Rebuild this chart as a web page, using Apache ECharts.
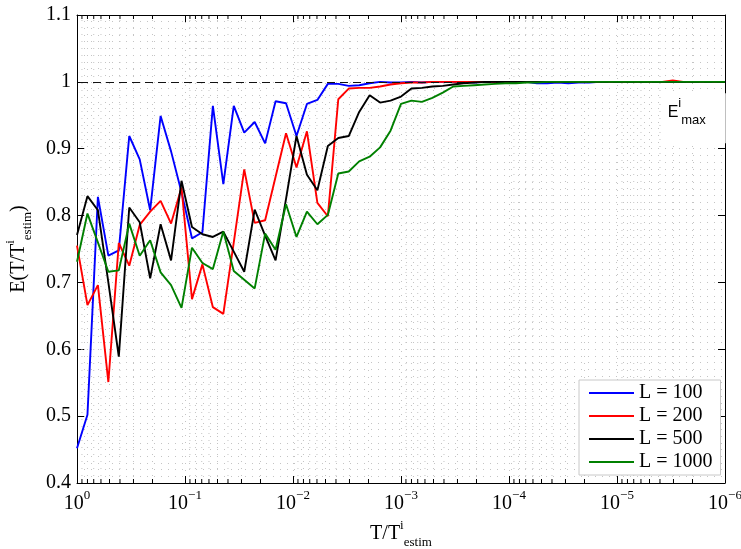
<!DOCTYPE html>
<html>
<head>
<meta charset="utf-8">
<script src="https://cdn.jsdelivr.net/npm/echarts@6/dist/echarts.min.js"></script>
<style>
  html, body { margin: 0; padding: 0; background: #fff; }
  #chart { width: 741px; height: 549px; }
</style>
</head>
<body>
<div id="chart"></div>
<script>
// Sample points T/T_estim, evenly spaced in log10 from 1 down to 1e-6 (63 samples)
const nSamples = 63;
const ratio = [];
for (let k = 0; k < nSamples; k++) ratio.push(Math.pow(10, -6 * k / (nSamples - 1)));

const seriesNames = ['L = 100', 'L = 200', 'L = 500', 'L = 1000'];
const seriesColors = ['#0000ff', '#ff0000', '#000000', '#008000'];

// Mean efficiency E(T/T_estim) per window length L
const effL100 = [
  0.452, 0.502, 0.828, 0.740, 0.748, 0.919, 0.884, 0.808, 0.949, 0.896,
  0.835, 0.766, 0.775, 0.964, 0.847, 0.964, 0.924, 0.940, 0.908, 0.971,
  0.968, 0.919, 0.967, 0.973, 0.997, 0.997, 0.994, 0.995, 0.998, 1.000,
  0.999, 0.999, 1.000, 0.999, 1.000, 1.000, 1.000, 1.000, 0.999, 1.000,
  1.000, 1.000, 1.000, 1.000, 0.998, 0.998, 0.999, 0.998, 0.999, 0.999,
  1.000, 1.000, 1.000, 1.000, 1.000, 1.000, 1.000, 1.000, 1.000, 1.000,
  1.000, 1.000, 1.000
];
const effL200 = [
  0.755, 0.666, 0.696, 0.551, 0.759, 0.725, 0.786, 0.806, 0.822, 0.788,
  0.842, 0.675, 0.727, 0.663, 0.653, 0.760, 0.869, 0.789, 0.793, 0.858,
  0.923, 0.872, 0.926, 0.819, 0.799, 0.974, 0.990, 0.991, 0.991, 0.993,
  0.996, 0.998, 0.999, 0.999, 1.000, 1.000, 1.000, 1.000, 1.000, 1.000,
  1.000, 1.000, 1.000, 1.000, 1.000, 1.000, 1.000, 1.000, 1.000, 1.000,
  1.000, 1.000, 1.000, 1.000, 1.000, 1.000, 1.000, 1.002, 1.000, 1.000,
  1.000, 1.000, 1.000
];
const effL500 = [
  0.771, 0.829, 0.808, 0.700, 0.589, 0.812, 0.790, 0.706, 0.787, 0.733,
  0.852, 0.783, 0.772, 0.768, 0.776, 0.746, 0.716, 0.809, 0.770, 0.733,
  0.825, 0.919, 0.861, 0.838, 0.904, 0.916, 0.919, 0.955, 0.980, 0.969,
  0.972, 0.978, 0.990, 0.991, 0.993, 0.994, 0.996, 0.998, 0.999, 1.000,
  1.000, 1.000, 1.000, 1.000, 1.000, 1.000, 1.000, 1.000, 1.000, 1.000,
  1.000, 1.000, 1.000, 1.000, 1.000, 1.000, 1.000, 1.000, 1.000, 1.000,
  1.000, 1.000, 1.000
];
const effL1000 = [
  0.731, 0.803, 0.760, 0.716, 0.718, 0.788, 0.740, 0.763, 0.715, 0.696,
  0.662, 0.752, 0.729, 0.720, 0.776, 0.717, 0.704, 0.691, 0.773, 0.749,
  0.817, 0.768, 0.806, 0.787, 0.801, 0.863, 0.866, 0.881, 0.888, 0.902,
  0.927, 0.967, 0.972, 0.970, 0.976, 0.984, 0.993, 0.994, 0.995, 0.996,
  0.997, 0.998, 0.998, 0.999, 0.999, 1.000, 1.000, 1.000, 1.000, 1.000,
  1.000, 1.000, 1.000, 1.000, 1.000, 1.000, 1.000, 1.000, 1.000, 1.000,
  1.000, 1.000, 1.000
];
const efficiency = [effL100, effL200, effL500, effL1000];

const yMin = 0.4, yMax = 1.1, yStep = 0.1;
const xMin = 1e-6, xMax = 1;
const maxLevel = 1; // reference level E_max

const serif = 'Liberation Serif';
const sans = 'Liberation Sans';
const gridDots = { color: '#c4c4c4', width: 1, type: [1, 6] };

// minor log positions 2..9 x 10^-d inside the x range
const minorX = [];
for (let d = 1; d <= 6; d++) {
  for (let m = 2; m <= 9; m++) minorX.push([m * Math.pow(10, -d), yMin]);
}

function supLabel(v) {
  const e = Math.round(Math.log10(v));
  return '{b|10}{s|' + (e < 0 ? '\u2212' + (-e) : e) + '}';
}

const chart = echarts.init(document.getElementById('chart'), null, { renderer: 'canvas' });

const xAxisBase = {
  type: 'log', logBase: 10, min: xMin, max: xMax, inverse: true, splitNumber: 6,
  axisLine: { show: true, onZero: false, lineStyle: { color: '#000', width: 1 } },
  axisTick: { show: true, inside: true, length: 7, lineStyle: { color: '#000' } },
  minorTick: { show: false }
};
const yAxisBase = {
  type: 'value', min: yMin, max: yMax, interval: yStep,
  axisLine: { show: true, onZero: false, lineStyle: { color: '#000', width: 1 } },
  axisTick: { show: true, inside: true, length: 7, lineStyle: { color: '#000' } }
};

const lineSeries = seriesNames.map((name, i) => ({
  name: name,
  type: 'line',
  xAxisIndex: 0, yAxisIndex: 0,
  data: ratio.map((t, k) => [t, efficiency[i][k]]),
  symbol: 'none',
  showSymbol: false,
  color: seriesColors[i],
  lineStyle: { width: 1.9, color: seriesColors[i] },
  z: 3 + i
}));

// dashed reference line at E = 1
lineSeries[3].markLine = {
  silent: true, symbol: 'none', label: { show: false },
  lineStyle: { color: '#111', width: 1, type: [8, 5] },
  data: [{ yAxis: maxLevel }]
};

const option = {
  animation: false,
  backgroundColor: '#fff',
  grid: { left: 77, right: 16, top: 15, bottom: 66, containLabel: false, outerBoundsMode: 'none' },
  xAxis: [
    Object.assign({}, xAxisBase, {
      position: 'bottom',
      axisLabel: {
        margin: 6, formatter: supLabel,
        rich: {
          b: { fontFamily: serif, fontSize: 20, color: '#000', lineHeight: 30, verticalAlign: 'middle' },
          s: { fontFamily: serif, fontSize: 13, color: '#000', lineHeight: 13, verticalAlign: 'top' }
        }
      },
      splitLine: { show: true, lineStyle: gridDots },
      name: '{n|T/T}{s|i}{u|estim}',
      nameLocation: 'middle', nameGap: 35,
      nameTextStyle: {
        rich: {
          n: { fontFamily: serif, fontSize: 20, color: '#000', lineHeight: 30, verticalAlign: 'middle' },
          s: { fontFamily: serif, fontSize: 13, color: '#000', lineHeight: 13, verticalAlign: 'top' },
          u: { fontFamily: serif, fontSize: 13, color: '#000', lineHeight: 13, verticalAlign: 'bottom' }
        }
      }
    }),
    Object.assign({}, xAxisBase, {
      position: 'top',
      axisLabel: { show: false },
      splitLine: { show: false }
    })
  ],
  yAxis: [
    Object.assign({}, yAxisBase, {
      position: 'left',
      axisLabel: {
        margin: 6, fontFamily: serif, fontSize: 20, color: '#000',
        formatter: v => String(Number(v.toFixed(1)))
      },
      splitLine: { show: true, lineStyle: gridDots },
      minorTick: { show: false, splitNumber: 10 },
      minorSplitLine: { show: true, lineStyle: gridDots },
      name: '{n|E(T/T}{s|i}{u|estim}{n|)}',
      nameLocation: 'middle', nameGap: 43, nameRotate: 90,
      nameTextStyle: {
        rich: {
          n: { fontFamily: serif, fontSize: 20, color: '#000', lineHeight: 30, verticalAlign: 'middle' },
          s: { fontFamily: serif, fontSize: 13, color: '#000', lineHeight: 13, verticalAlign: 'top' },
          u: { fontFamily: serif, fontSize: 13, color: '#000', lineHeight: 13, verticalAlign: 'bottom' }
        }
      }
    }),
    Object.assign({}, yAxisBase, {
      position: 'right',
      axisLabel: { show: false },
      splitLine: { show: false }
    })
  ],
  legend: {
    data: seriesNames,
    orient: 'vertical',
    left: 579, top: 380,
    itemWidth: 45, itemHeight: 14, itemGap: 3,
    padding: [3, 8, 3, 9],
    borderColor: '#c8c8c8', borderWidth: 1, backgroundColor: '#fff',
    selectedMode: false,
    itemStyle: { opacity: 0 },
    lineStyle: { width: 2 },
    textStyle: { fontFamily: serif, fontSize: 20, color: '#000', lineHeight: 20 }
  },
  series: [
    {
      // minor log grid lines and minor ticks on bottom/top edges
      type: 'custom',
      xAxisIndex: 0, yAxisIndex: 0,
      silent: true, z: 1,
      data: minorX,
      renderItem: function (params, api) {
        const v = api.value(0);
        const lo = api.coord([v, yMin]);
        const hi = api.coord([v, yMax]);
        return {
          type: 'group',
          children: [
            { type: 'line', shape: { x1: lo[0], y1: lo[1], x2: hi[0], y2: hi[1] },
              style: { stroke: gridDots.color, lineWidth: 1, lineDash: [1, 6] } },
            { type: 'line', shape: { x1: lo[0], y1: lo[1], x2: lo[0], y2: lo[1] - 4 },
              style: { stroke: '#000', lineWidth: 1 } },
            { type: 'line', shape: { x1: hi[0], y1: hi[1], x2: hi[0], y2: hi[1] + 4 },
              style: { stroke: '#000', lineWidth: 1 } }
          ]
        };
      }
    }
  ].concat(lineSeries)
};

chart.setOption(option);

// E^i_max annotation next to the reference line
const anchor = chart.convertToPixel({ xAxisIndex: 0, yAxisIndex: 0 }, [3.7e-6, 0.983]);
chart.setOption({
  graphic: [{
    type: 'text', x: anchor[0], y: anchor[1], z: 20, silent: true,
    style: {
      text: '{e|E}{s|i}{m|max}',
      align: 'left', verticalAlign: 'top',
      backgroundColor: '#fff',
      padding: [4, 20, 16, 4],
      rich: {
        e: { fontFamily: sans, fontSize: 16, fill: '#000', lineHeight: 30, verticalAlign: 'middle' },
        s: { fontFamily: sans, fontSize: 13, fill: '#000', lineHeight: 13, verticalAlign: 'top' },
        m: { fontFamily: sans, fontSize: 13, fill: '#000', lineHeight: 13, verticalAlign: 'bottom' }
      }
    }
  }]
});
</script>
</body>
</html>
